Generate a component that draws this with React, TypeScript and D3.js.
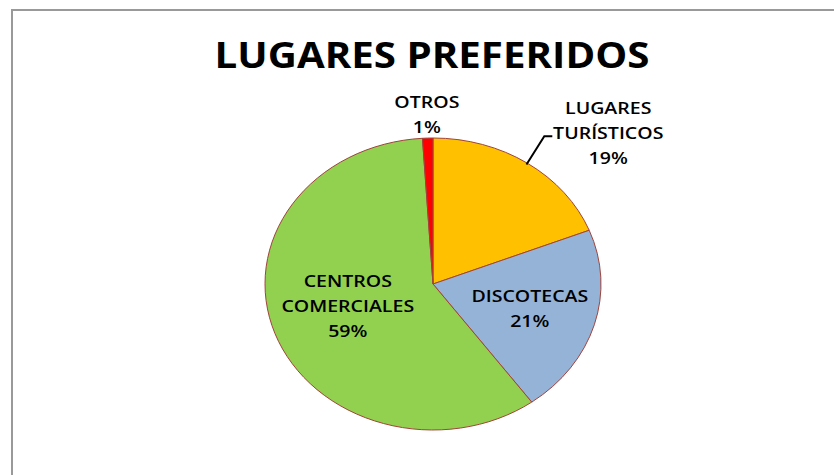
import { useMemo } from "react";
import * as d3 from "d3";

// Chart data
const title = "LUGARES PREFERIDOS";
const categories = ["LUGARES TURÍSTICOS", "DISCOTECAS", "CENTROS COMERCIALES", "OTROS"];
const labelLines = [["LUGARES", "TURÍSTICOS"], ["DISCOTECAS"], ["CENTROS", "COMERCIALES"], ["OTROS"]];
const percents = [19, 21, 59, 1];

const palette = ["#FFC000", "#95B3D7", "#92D050", "#FF0000"];

const W = 834;
const H = 475;
const cx = 433;
const cy = 284;
const ry = 146;
const rx = 168;
const sx = rx / ry; // the original picture is stretched sideways
const lineH = 25;

// label placement: radius factor (of pie radius) and angle tweak (deg), per slice
const labelLayout: Record<string, { r: number; da: number }> = {
  "LUGARES TURÍSTICOS": { r: 1.47, da: 11 },
  DISCOTECAS: { r: 0.6, da: 0 },
  "CENTROS COMERCIALES": { r: 0.53, da: 3 },
  OTROS: { r: 1.16, da: 0 },
};

export default function App() {
  const data = categories.map((c, i) => ({ cat: c, value: percents[i], lines: labelLines[i] }));
  const color = d3.scaleOrdinal<string, string>().domain(categories).range(palette);

  const arcs = useMemo(() => d3.pie<any>().sort(null).value((d) => d.value)(data), []);
  const arc = d3.arc<any>().innerRadius(0).outerRadius(ry);

  // point on the (elliptical) pie at angle a and radius factor f
  const at = (a: number, f: number): [number, number] => [
    cx + Math.sin(a) * rx * f,
    cy - Math.cos(a) * ry * f,
  ];

  return (
    <svg width={W} height={H} style={{ position: "absolute", left: 0, top: 0, background: "#fff" }}>
      <rect x={12} y={10} width={1000} height={1000} fill="#fff" stroke="#999" strokeWidth={2} />
      <g transform={`translate(432,0) scale(${sx},1)`}>
        <text
          x={0}
          y={68}
          textAnchor="middle"
          fontFamily="'Open Sans', sans-serif"
          fontWeight={700}
          fontSize={35}
          fill="#000"
        >
          {title}
        </text>
      </g>

      <g transform={`translate(${cx},${cy}) scale(${sx},1)`}>
        {arcs.map((a, i) => (
          <path
            key={i}
            d={arc(a) as string}
            fill={color(a.data.cat)}
            stroke="#A0443A"
            strokeWidth={1}
            vectorEffect="non-scaling-stroke"
          />
        ))}
      </g>

      {/* leader line for LUGARES TURÍSTICOS */}
      {arcs
        .filter((a) => a.data.cat === "LUGARES TURÍSTICOS")
        .map((a, i) => {
          const mid = (a.startAngle + a.endAngle) / 2;
          const p0 = at(mid, 0.99);
          const p1 = at(mid - (1 * Math.PI) / 180, 1.21);
          const p2: [number, number] = [p1[0] + 8, p1[1]];
          return (
            <polyline
              key={i}
              points={[p0, p1, p2].map((p) => p.join(",")).join(" ")}
              fill="none"
              stroke="#000"
              strokeWidth={2}
            />
          );
        })}

      {arcs.map((a, i) => {
        const lay = labelLayout[a.data.cat];
        const mid = (a.startAngle + a.endAngle) / 2 + (lay.da * Math.PI) / 180;
        const [lx, ly] = at(mid, lay.r);
        const lines = [...a.data.lines, `${a.data.value}%`];
        const y0 = ly - ((lines.length - 1) * lineH) / 2 + 6;
        return (
          <g key={i} transform={`translate(${lx},0) scale(${sx},1)`}>
            <text
              textAnchor="middle"
              fontFamily="'Open Sans', sans-serif"
              fontSize={17}
              fontWeight={600}
              fill="#000"
            >
              {lines.map((t, j) => (
                <tspan key={j} x={0} y={y0 + j * lineH}>
                  {t}
                </tspan>
              ))}
            </text>
          </g>
        );
      })}
    </svg>
  );
}
